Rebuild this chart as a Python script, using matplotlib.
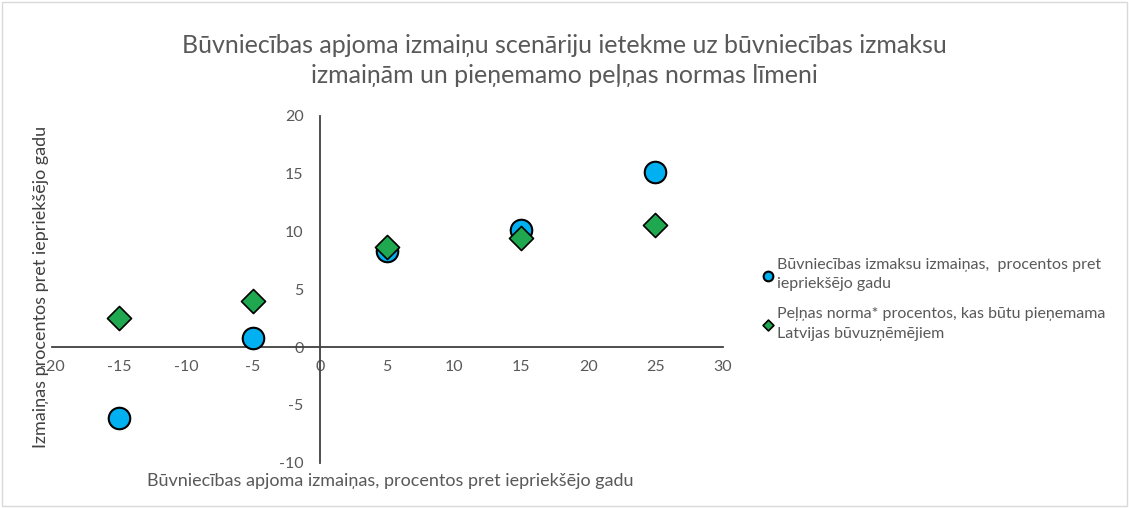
import matplotlib.pyplot as plt

plt.rcParams["font.family"] = ["Lato", "DejaVu Sans"]
plt.rcParams["axes.unicode_minus"] = False

# data
volume_change = [-15, -5, 5, 15, 25]
cost_change = [-6.1, 0.8, 8.3, 10.1, 15.1]
profit_rate = [2.5, 4.0, 8.7, 9.4, 10.6]

cost_label = "Būvniecības izmaksu izmaiņas,  procentos pret\niepriekšējo gadu"
profit_label = "Peļņas norma* procentos, kas būtu pieņemama\nLatvijas būvuzņēmējiem"
title = ("Būvniecības apjoma izmaiņu scenāriju ietekme uz būvniecības izmaksu\n"
         "izmaiņām un pieņemamo peļņas normas līmeni")
xlabel = "Būvniecības apjoma izmaiņas, procentos pret iepriekšējo gadu"
ylabel = "Izmaiņas procentos pret iepriekšējo gadu"

TXT = "#595959"
AXC = "#404040"

fig = plt.figure(figsize=(11.29, 5.08), dpi=100)
ax = fig.add_axes([0.046, 0.089, 0.594, 0.683])

ax.scatter(volume_change, cost_change, s=240, marker="o", color="#00B0F0",
           edgecolor="black", linewidth=1.5, zorder=3, label=cost_label)
ax.scatter(volume_change, profit_rate, s=150, marker="D", color="#1FA84F",
           edgecolor="black", linewidth=1.2, zorder=4, label=profit_label)

ax.set_xlim(-20, 30)
ax.set_ylim(-10, 20)
ax.set_xticks(range(-20, 31, 5))
ax.set_yticks(range(-10, 21, 5))

for s in ("top", "right"):
    ax.spines[s].set_visible(False)
ax.spines["left"].set_position(("data", 0))
ax.spines["bottom"].set_position(("data", 0))
for s in ("left", "bottom"):
    ax.spines[s].set_color(AXC)
    ax.spines[s].set_linewidth(1.3)
ax.tick_params(length=0, labelsize=11.5, labelcolor=TXT)
ax.tick_params(axis="x", pad=9)
ax.tick_params(axis="y", pad=12)

fig.text(0.346, 0.054, xlabel, ha="center", va="center", fontsize=13, color=TXT)
fig.text(0.036, 0.435, ylabel, ha="center", va="center", rotation=90,
         fontsize=13, color=AXC)
fig.text(0.5, 0.881, title, ha="center", va="center", fontsize=18,
         color=TXT, linespacing=1.35)

leg = ax.legend(loc="upper left", bbox_to_anchor=(0.669, 0.505),
                bbox_transform=fig.transFigure, frameon=False, fontsize=11.5,
                markerscale=0.45, handletextpad=0.15, handlelength=0.8,
                labelspacing=1.0, borderaxespad=0)
for t in leg.get_texts():
    t.set_color(TXT)
    t.set_linespacing(1.5)

# light chart-area border
fig.patches.append(plt.Rectangle((0.002, 0.004), 0.996, 0.992,
                                 transform=fig.transFigure, fill=False,
                                 edgecolor="#D9D9D9", linewidth=1))

fig.savefig("out.png", dpi=100)
